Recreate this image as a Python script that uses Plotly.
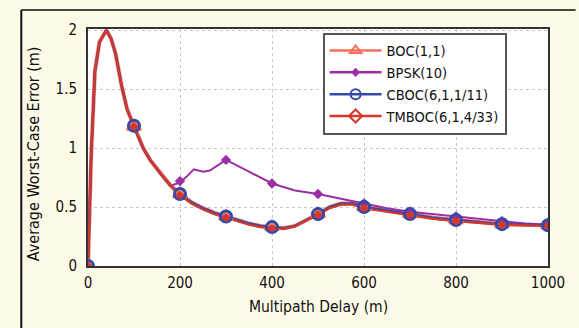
import plotly.graph_objects as go

# Dense curve samples (m, m)
x_main = [0, 3, 7, 15, 25, 40, 50, 60, 73, 85, 100, 120, 135, 160, 180, 200, 225, 250, 275, 300,
          325, 350, 375, 400, 425, 450, 475, 500, 525, 550, 575, 600, 650, 700, 750, 800, 850, 900, 950, 1000]
y_boc = [0, 0.5, 0.95, 1.65, 1.9, 2.0, 1.93, 1.8, 1.53, 1.33, 1.18, 1.0, 0.9, 0.77, 0.68, 0.61, 0.54, 0.49, 0.45, 0.42,
         0.39, 0.36, 0.34, 0.33, 0.32, 0.34, 0.39, 0.44, 0.5, 0.53, 0.53, 0.5, 0.47, 0.44, 0.41, 0.39, 0.37, 0.355, 0.35, 0.345]
y_cboc = [0, 0.5, 0.95, 1.65, 1.9, 2.0, 1.93, 1.8, 1.53, 1.33, 1.18, 1.0, 0.9, 0.77, 0.68, 0.61, 0.54, 0.49, 0.45, 0.42,
          0.39, 0.36, 0.34, 0.33, 0.32, 0.34, 0.39, 0.44, 0.5, 0.53, 0.53, 0.5, 0.47, 0.44, 0.41, 0.39, 0.37, 0.355, 0.35, 0.345]
y_tmboc = [0, 0.5, 0.95, 1.65, 1.9, 2.0, 1.93, 1.8, 1.53, 1.33, 1.18, 1.0, 0.9, 0.77, 0.68, 0.6, 0.53, 0.48, 0.44, 0.41,
           0.38, 0.35, 0.33, 0.32, 0.315, 0.335, 0.385, 0.435, 0.49, 0.52, 0.52, 0.49, 0.46, 0.43, 0.4, 0.38, 0.365, 0.35, 0.345, 0.34]

x_bpsk = [0, 3, 7, 15, 25, 40, 50, 60, 73, 85, 100, 120, 135, 160, 180, 200, 215, 230, 250, 265, 300,
          350, 400, 450, 500, 550, 600, 650, 700, 750, 800, 850, 900, 950, 1000]
y_bpsk = [0, 0.5, 0.95, 1.65, 1.9, 2.0, 1.93, 1.8, 1.53, 1.33, 1.18, 1.0, 0.9, 0.77, 0.68, 0.71, 0.76, 0.82, 0.8, 0.81, 0.9,
          0.8, 0.7, 0.64, 0.61, 0.57, 0.53, 0.49, 0.46, 0.44, 0.42, 0.4, 0.38, 0.36, 0.35]

# Marker positions
x_mk = [0, 100, 200, 300, 400, 500, 600, 700, 800, 900, 1000]
y_mk_boc = [0, 1.18, 0.61, 0.42, 0.33, 0.44, 0.5, 0.44, 0.39, 0.355, 0.345]
y_mk_cboc = [0, 1.19, 0.61, 0.42, 0.33, 0.44, 0.5, 0.44, 0.39, 0.355, 0.345]
y_mk_tmboc = [0, 1.18, 0.6, 0.41, 0.32, 0.435, 0.49, 0.43, 0.38, 0.35, 0.34]
x_mk_bpsk = [200, 300, 400, 500, 600, 700, 800, 900, 1000]
y_mk_bpsk = [0.72, 0.9, 0.7, 0.61, 0.53, 0.46, 0.42, 0.38, 0.35]

names = ["BOC(1,1)", "BPSK(10)", "CBOC(6,1,1/11)", "TMBOC(6,1,4/33)"]
x_title = "Multipath Delay (m)"
y_title = "Average Worst-Case Error (m)"
c_boc = "#f5715a"
c_bpsk = "#9c2fa3"
c_cboc = "#3449a8"
c_tmboc = "#d2382b"

FONT = "Liberation Sans Narrow, DejaVu Sans Condensed, sans-serif"

fig = go.Figure()

# lines
fig.add_trace(go.Scatter(x=x_main, y=y_boc, mode="lines", line=dict(color=c_boc, width=4), showlegend=False))
fig.add_trace(go.Scatter(x=x_bpsk, y=y_bpsk, mode="lines", line=dict(color=c_bpsk, width=2), showlegend=False))
fig.add_trace(go.Scatter(x=x_main, y=y_cboc, mode="lines", line=dict(color=c_cboc, width=2.5), showlegend=False))
fig.add_trace(go.Scatter(x=x_main, y=y_tmboc, mode="lines", line=dict(color=c_tmboc, width=2.2), showlegend=False))

# markers
fig.add_trace(go.Scatter(x=x_mk, y=y_mk_boc, mode="markers", showlegend=False,
                         marker=dict(symbol="triangle-up-open", size=12, color=c_boc, line=dict(width=2.5, color=c_boc))))
fig.add_trace(go.Scatter(x=x_mk_bpsk, y=y_mk_bpsk, mode="markers", showlegend=False,
                         marker=dict(symbol="diamond", size=8, color=c_bpsk)))
fig.add_trace(go.Scatter(x=x_mk, y=y_mk_cboc, mode="markers", showlegend=False,
                         marker=dict(symbol="circle-open", size=11, color=c_cboc, line=dict(width=3, color=c_cboc))))
fig.add_trace(go.Scatter(x=x_mk, y=y_mk_tmboc, mode="markers", showlegend=False,
                         marker=dict(symbol="diamond", size=7, color=c_tmboc)))

# legend entries
leg_specs = [
    (names[0], c_boc, dict(symbol="triangle-up-open", size=10, color=c_boc, line=dict(width=2, color=c_boc))),
    (names[1], c_bpsk, dict(symbol="diamond", size=7, color=c_bpsk)),
    (names[2], c_cboc, dict(symbol="circle-open", size=10, color=c_cboc, line=dict(width=2, color=c_cboc))),
    (names[3], c_tmboc, dict(symbol="diamond-open", size=10, color=c_tmboc, line=dict(width=2, color=c_tmboc))),
]
for nm, col, mk in leg_specs:
    fig.add_trace(go.Scatter(x=[None], y=[None], mode="lines+markers", name=nm,
                             line=dict(color=col, width=2.5), marker=mk))

fig.update_layout(
    width=579, height=328,
    margin=dict(l=88, r=31, t=29, b=62),
    paper_bgcolor="#fdfbe8",
    plot_bgcolor="#ffffff",
    font=dict(family=FONT, size=14, color="#111111"),
    legend=dict(x=0.51, y=0.985, xanchor="left", yanchor="top",
                bgcolor="#ffffff", bordercolor="#555555", borderwidth=2,
                font=dict(family=FONT, size=14.5, color="#111111"),
                tracegroupgap=0, itemwidth=52),
    shapes=[
        dict(type="line", xref="paper", yref="paper", x0=-0.145, x1=1.06, y0=1.08, y1=1.08,
             line=dict(color="#4a4a40", width=2)),
        dict(type="line", xref="paper", yref="paper", x0=-0.145, x1=-0.145, y0=1.08, y1=-0.3,
             line=dict(color="#111111", width=2)),
    ],
    annotations=[
        dict(text=y_title, xref="paper", yref="paper", x=-0.118, y=0.475, textangle=-90,
             showarrow=False, xanchor="center", yanchor="middle", font=dict(size=16)),
        dict(text=x_title, xref="paper", yref="paper", x=0.5, y=-0.172,
             showarrow=False, xanchor="center", yanchor="middle", font=dict(size=15.5)),
    ],
)
fig.update_xaxes(range=[0, 1000], tickvals=[0, 200, 400, 600, 800, 1000],
                 showgrid=True, gridcolor="#c8c8c8", griddash="dot", gridwidth=1,
                 showline=True, linecolor="#333333", linewidth=2, mirror=True,
                 zeroline=False, ticks="", ticklen=0, ticklabelstandoff=2,
                 tickfont=dict(size=15))
fig.update_yaxes(range=[0, 2.01], tickvals=[0, 0.5, 1, 1.5, 2], ticktext=["0", "0.5", "1", "1.5", "2"],
                 showgrid=True, gridcolor="#c8c8c8", griddash="dot", gridwidth=1,
                 showline=True, linecolor="#333333", linewidth=2, mirror=True,
                 zeroline=False, ticks="", ticklen=0, ticklabelstandoff=6,
                 tickfont=dict(size=15))

fig.write_html("out.html")
